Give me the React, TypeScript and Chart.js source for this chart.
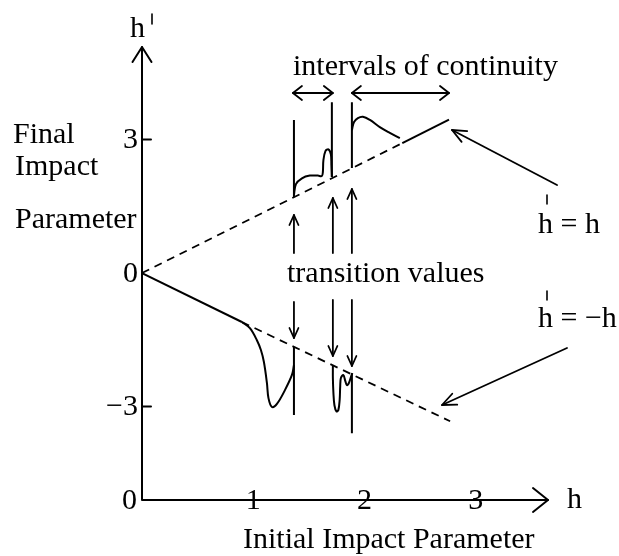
import { useEffect, useRef } from "react";
import { Chart, registerables } from "chart.js";

Chart.register(...registerables);

type Pair = [number, number];

// Reference lines h' = h and h' = -h
const identityDashed: Pair[] = [[0, 0], [2.34, 2.92]];
const identitySolid: Pair[] = [[2.34, 2.92], [2.76, 3.45]];
const mirrorSolid: Pair[] = [[0, 0], [0.898, -1.1]];
const mirrorDashed: Pair[] = [[0.898, -1.1], [2.77, -3.33]];

// Transition values of the initial impact parameter
const transitionH = [1.366, 1.707, 1.887];

// Vertical jumps at the transitions: [h, top h', bottom h']
const upperJumps: [number, number, number][] = [
  [1.366, 3.44, 1.71],
  [1.707, 3.84, 2.16],
  [1.887, 3.84, 2.36],
];
const lowerJumps: [number, number, number][] = [
  [1.366, -1.66, -3.19],
  [1.887, -2.25, -3.6],
];

// Final impact parameter branches
const lowerDip: Pair[] = [
  [0.898, -1.1], [0.97, -1.24], [1.033, -1.51], [1.069, -1.73], [1.096, -2.0],
  [1.123, -2.47], [1.137, -2.81], [1.168, -3.01], [1.213, -2.94], [1.285, -2.63],
  [1.348, -2.29], [1.366, -2.07],
];
const lowerNotch: Pair[] = [
  [1.716, -2.09], [1.716, -2.36], [1.721, -2.7], [1.73, -2.97], [1.748, -3.11],
  [1.765, -3.08], [1.777, -2.85], [1.782, -2.54], [1.788, -2.36], [1.81, -2.29],
  [1.828, -2.43], [1.842, -2.52], [1.86, -2.47], [1.878, -2.34], [1.891, -2.25],
];
const upperBranchA: Pair[] = [
  [1.366, 1.75], [1.384, 2.0], [1.438, 2.13], [1.509, 2.19], [1.581, 2.19],
  [1.617, 2.18], [1.626, 2.27], [1.631, 2.54], [1.649, 2.74], [1.676, 2.78],
  [1.698, 2.67], [1.703, 2.43], [1.707, 2.16],
];
const upperBranchB: Pair[] = [
  [1.887, 3.21], [1.905, 3.39], [1.941, 3.48], [1.986, 3.51], [2.049, 3.44],
  [2.138, 3.28], [2.228, 3.15], [2.318, 3.03],
];

const yTicks = [3, 0, -3];
const xTicks = [1, 2, 3];
const yTickText = ["3", "0", "\u22123"];

const FONT = "30px 'Liberation Serif', 'Times New Roman', serif";

const toPts = (a: Pair[]) => a.map(([x, y]) => ({ x, y }));

const solid = (a: Pair[], tension = 0) => ({
  data: toPts(a),
  borderColor: "#000",
  borderWidth: 2,
  pointRadius: 0,
  tension,
  fill: false,
});
const dashed = (a: Pair[]) => ({ ...solid(a), borderWidth: 1.8, borderDash: [8, 6] });

function head(ctx: CanvasRenderingContext2D, tx: number, ty: number, fx: number, fy: number, len: number, half: number) {
  const ang = Math.atan2(ty - fy, tx - fx);
  const bx = tx - len * Math.cos(ang);
  const by = ty - len * Math.sin(ang);
  const px = -Math.sin(ang) * half;
  const py = Math.cos(ang) * half;
  ctx.beginPath();
  ctx.moveTo(bx + px, by + py);
  ctx.lineTo(tx, ty);
  ctx.lineTo(bx - px, by - py);
  ctx.stroke();
}

function arrow(ctx: CanvasRenderingContext2D, x1: number, y1: number, x2: number, y2: number, len: number, half: number, both = false) {
  ctx.beginPath();
  ctx.moveTo(x1, y1);
  ctx.lineTo(x2, y2);
  ctx.stroke();
  head(ctx, x2, y2, x1, y1, len, half);
  if (both) head(ctx, x1, y1, x2, y2, len, half);
}

const diagramPlugin = {
  id: "diagram",
  afterDatasetsDraw(chart: any) {
    const ctx: CanvasRenderingContext2D = chart.ctx;
    const xs = chart.scales.x;
    const ys = chart.scales.y;
    const { left, right, top, bottom } = chart.chartArea;
    ctx.save();
    ctx.strokeStyle = "#000";
    ctx.fillStyle = "#000";
    ctx.lineCap = "round";
    ctx.lineJoin = "round";

    // axes with arrow tips
    ctx.lineWidth = 2;
    ctx.beginPath();
    ctx.moveTo(left, top);
    ctx.lineTo(left, bottom);
    ctx.lineTo(right, bottom);
    ctx.stroke();
    head(ctx, left, top, left, bottom, 15, 9.5);
    head(ctx, right, bottom, left, bottom, 15, 12);

    // y ticks
    ctx.font = FONT;
    ctx.textAlign = "right";
    ctx.textBaseline = "middle";
    yTicks.forEach((v, i) => {
      const py = ys.getPixelForValue(v);
      if (v !== 0) {
        ctx.beginPath();
        ctx.moveTo(left, py);
        ctx.lineTo(left + 9, py);
        ctx.stroke();
      }
      ctx.fillText(yTickText[i], left - 4, py + 1);
    });
    ctx.fillText("0", left - 5, bottom + 1);

    // x ticks sit on the axis line
    ctx.textAlign = "center";
    xTicks.forEach((v) => {
      ctx.fillText(String(v), xs.getPixelForValue(v), bottom + 1);
    });

    // axis titles
    ctx.textAlign = "left";
    ctx.textBaseline = "alphabetic";
    ctx.fillText("h", left - 12, 37);
    ctx.fillText("h", right + 19, bottom + 8);
    ctx.fillText("Final", 13, 143);
    ctx.fillText("Impact", 15, 175);
    ctx.fillText("Parameter", 15, 228);
    ctx.fillText("Initial Impact Parameter", 243, 548);
    ctx.lineWidth = 1.6;
    ctx.beginPath();
    ctx.moveTo(left + 10, 14);
    ctx.lineTo(left + 10, 24);
    ctx.stroke();

    // intervals of continuity
    const xa = xs.getPixelForValue(transitionH[0]);
    const xb = xs.getPixelForValue(transitionH[1]);
    const xc = xs.getPixelForValue(transitionH[2]);
    const xEnd = xs.getPixelForValue(identitySolid[1][0]);
    ctx.fillText("intervals of continuity", 293, 75);
    ctx.lineWidth = 1.8;
    arrow(ctx, xa - 1, 93, xb + 1, 93, 9, 7, true);
    arrow(ctx, xc, 93, xEnd, 93, 9, 7, true);

    // transition values
    ctx.fillText("transition values", 287, 282);
    const upTips = [215, 198, 189];
    const downTails = [302, 300, 300];
    const downTips = [338, 356, 366];
    [xa, xb + 1, xc].forEach((px, i) => {
      arrow(ctx, px, 253, px, upTips[i], 10, 4.5);
      arrow(ctx, px, downTails[i], px, downTips[i], 10, 4.5);
    });

    // line labels with pointers
    ctx.fillText("h = h", 538, 233);
    ctx.fillText("h = \u2212h", 538, 327);
    ctx.lineWidth = 1.6;
    ctx.beginPath();
    ctx.moveTo(547, 195);
    ctx.lineTo(547, 204);
    ctx.moveTo(547, 291);
    ctx.lineTo(547, 300);
    ctx.stroke();
    ctx.lineWidth = 1.8;
    arrow(ctx, 557, 185, 452, 130, 14, 6);
    arrow(ctx, 567, 348, 442, 405, 14, 6);

    ctx.restore();
  },
};

export default function App() {
  const ref = useRef<HTMLCanvasElement | null>(null);

  useEffect(() => {
    if (!ref.current) return;
    const jumps = [...upperJumps, ...lowerJumps].map(([h, a, b]) =>
      solid([[h, a], [h, b]])
    );
    const chart = new Chart(ref.current, {
      type: "line",
      data: {
        datasets: [
          dashed(identityDashed),
          solid(identitySolid),
          solid(mirrorSolid),
          dashed(mirrorDashed),
          ...jumps,
          solid(lowerDip, 0.35),
          solid(lowerNotch, 0.35),
          solid(upperBranchA, 0.35),
          solid(upperBranchB, 0.35),
        ] as any,
      },
      options: {
        responsive: false,
        animation: false,
        events: [],
        layout: { padding: { left: 142, right: 71, top: 47, bottom: 56 } },
        plugins: { legend: { display: false }, tooltip: { enabled: false } },
        scales: {
          x: { type: "linear", min: 0, max: 3.65, display: false },
          y: { type: "linear", min: -5.1, max: 5.08, display: false },
        },
      },
      plugins: [diagramPlugin],
    });
    return () => chart.destroy();
  }, []);

  return (
    <div style={{ position: "absolute", left: 0, top: 0, width: 619, height: 556, background: "#fff" }}>
      <canvas ref={ref} width={619} height={556} style={{ display: "block" }} />
    </div>
  );
}
